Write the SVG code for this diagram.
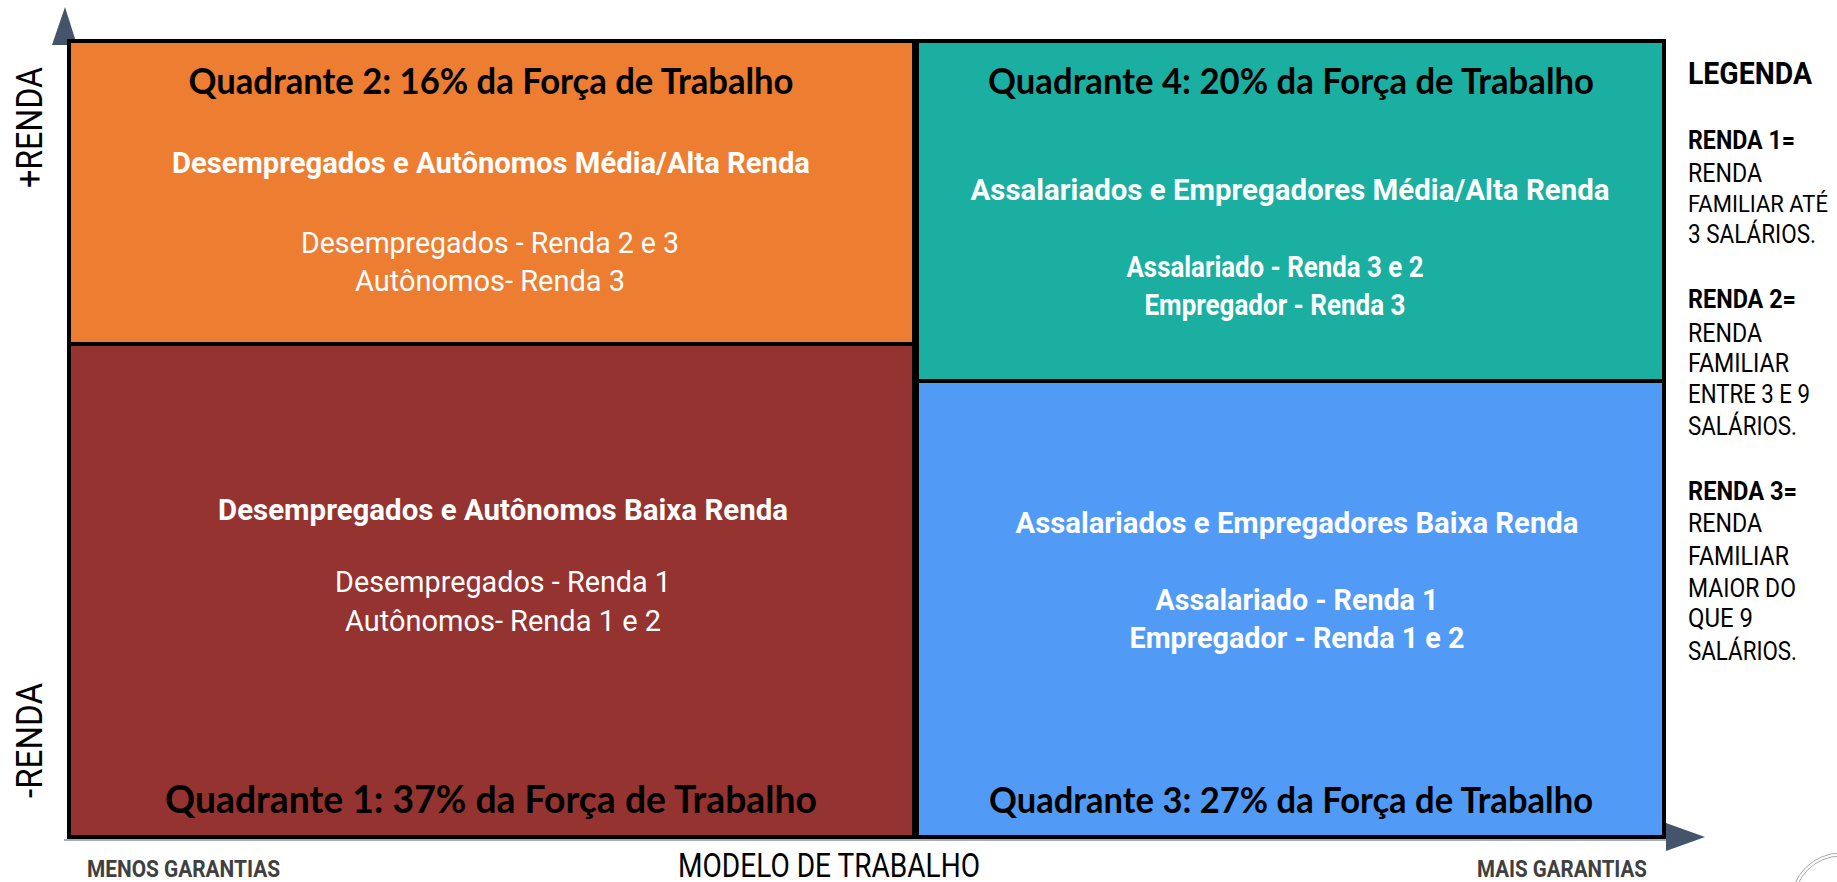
<svg xmlns="http://www.w3.org/2000/svg" width="1837" height="882" viewBox="0 0 1837 882">
<style>
.q{stroke:#000;stroke-width:4}
.ttl{font-family:Lato,"Liberation Sans",sans-serif;font-weight:700;font-size:36px;fill:#000;text-anchor:middle}
.bw{font-family:Roboto,"Liberation Sans",sans-serif;font-weight:700;font-size:29px;fill:#fff;text-anchor:middle}
.rw{font-family:Roboto,"Liberation Sans",sans-serif;font-weight:400;font-size:29px;fill:#fff;text-anchor:middle}
.lg{font-family:Roboto,"Liberation Sans",sans-serif;font-size:26px;fill:#000}
.lgb{font-family:Roboto,"Liberation Sans",sans-serif;font-weight:700;font-size:25px;fill:#000}
.ax{font-family:Roboto,"Liberation Sans",sans-serif;font-size:36px;fill:#000;text-anchor:middle}
.gar{font-family:Roboto,"Liberation Sans",sans-serif;font-weight:700;font-size:23px;fill:#404040}
</style>
<defs>
<linearGradient id="vg" x1="0" y1="0" x2="0" y2="1">
<stop offset="0" stop-color="#44546A"/><stop offset="1" stop-color="#9AAAC0"/>
</linearGradient>
</defs>
<rect width="1837" height="882" fill="#fff"/>
<g id="axes">
<line x1="64" y1="40" x2="64" y2="840" stroke="url(#vg)" stroke-width="3"/>
<line x1="64" y1="840" x2="1668" y2="840" stroke="#9FAEC2" stroke-width="2"/>
<polygon points="65,7 77,45 52,45" fill="#44546A"/>
<polygon points="1705,837 1666,823 1666,851" fill="#44546A"/>
</g>
<g id="q2">
<rect class="q" x="69" y="41" width="845" height="303" fill="#ED7D31"/>
<text class="ttl" x="491" y="94" textLength="605" lengthAdjust="spacingAndGlyphs">Quadrante 2: 16% da Força de Trabalho</text>
<text class="bw" x="491" y="173" textLength="638" lengthAdjust="spacingAndGlyphs">Desempregados e Autônomos Média/Alta Renda</text>
<text class="rw" x="490" y="253" textLength="378" lengthAdjust="spacingAndGlyphs">Desempregados - Renda 2 e 3</text>
<text class="rw" x="490" y="291" textLength="270" lengthAdjust="spacingAndGlyphs">Autônomos- Renda 3</text>
</g>
<g id="q1">
<rect class="q" x="69" y="344" width="845" height="493" fill="#943330"/>
<text class="bw" x="503" y="520" textLength="570" lengthAdjust="spacingAndGlyphs">Desempregados e Autônomos Baixa Renda</text>
<text class="rw" x="503" y="592" textLength="336" lengthAdjust="spacingAndGlyphs">Desempregados - Renda 1</text>
<text class="rw" x="503" y="631" textLength="316" lengthAdjust="spacingAndGlyphs">Autônomos- Renda 1 e 2</text>
<text class="ttl" x="491" y="813" style="font-size:38px" textLength="652" lengthAdjust="spacingAndGlyphs">Quadrante 1: 37% da Força de Trabalho</text>
</g>
<g id="q4">
<rect class="q" x="917" y="41" width="747" height="340" fill="#1AAFA1"/>
<text class="ttl" x="1291" y="94" textLength="606" lengthAdjust="spacingAndGlyphs">Quadrante 4: 20% da Força de Trabalho</text>
<text class="bw" x="1290" y="200" textLength="639" lengthAdjust="spacingAndGlyphs">Assalariados e Empregadores Média/Alta Renda</text>
<text class="bw" x="1275" y="277" textLength="297" lengthAdjust="spacingAndGlyphs">Assalariado - Renda 3 e 2</text>
<text class="bw" x="1275" y="315" textLength="261" lengthAdjust="spacingAndGlyphs">Empregador - Renda 3</text>
</g>
<g id="q3">
<rect class="q" x="917" y="381" width="747" height="456" fill="#519BF7"/>
<text class="bw" x="1297" y="533" textLength="563" lengthAdjust="spacingAndGlyphs">Assalariados e Empregadores Baixa Renda</text>
<text class="bw" x="1297" y="610" textLength="283" lengthAdjust="spacingAndGlyphs">Assalariado - Renda 1</text>
<text class="bw" x="1297" y="648" textLength="335" lengthAdjust="spacingAndGlyphs">Empregador - Renda 1 e 2</text>
<text class="ttl" x="1291" y="813" textLength="604" lengthAdjust="spacingAndGlyphs">Quadrante 3: 27% da Força de Trabalho</text>
</g>
<g id="labels">
<text class="ax" transform="translate(42,127.5) rotate(-90)" textLength="121" lengthAdjust="spacingAndGlyphs">+RENDA</text>
<text class="ax" transform="translate(42,740.5) rotate(-90)" textLength="115" lengthAdjust="spacingAndGlyphs">-RENDA</text>
<text class="ax" x="829" y="877" style="font-size:33px" textLength="302" lengthAdjust="spacingAndGlyphs">MODELO DE TRABALHO</text>
<text class="gar" x="87" y="877" textLength="193" lengthAdjust="spacingAndGlyphs">MENOS GARANTIAS</text>
<text class="gar" x="1477" y="877" textLength="170" lengthAdjust="spacingAndGlyphs">MAIS GARANTIAS</text>
</g>
<g id="legend">
<text class="lgb" x="1688" y="84" style="font-size:31px" textLength="124" lengthAdjust="spacingAndGlyphs">LEGENDA</text>
<text class="lgb" x="1688" y="149" textLength="107" lengthAdjust="spacingAndGlyphs">RENDA 1=</text>
<text class="lg" x="1688" y="182" textLength="74" lengthAdjust="spacingAndGlyphs">RENDA</text>
<text class="lg" x="1688" y="212" style="font-size:23px" textLength="140" lengthAdjust="spacingAndGlyphs">FAMILIAR ATÉ</text>
<text class="lg" x="1688" y="243" textLength="128" lengthAdjust="spacingAndGlyphs">3 SALÁRIOS.</text>
<text class="lgb" x="1688" y="308" textLength="108" lengthAdjust="spacingAndGlyphs">RENDA 2=</text>
<text class="lg" x="1688" y="342" textLength="74" lengthAdjust="spacingAndGlyphs">RENDA</text>
<text class="lg" x="1688" y="372" textLength="101" lengthAdjust="spacingAndGlyphs">FAMILIAR</text>
<text class="lg" x="1688" y="403" textLength="122" lengthAdjust="spacingAndGlyphs">ENTRE 3 E 9</text>
<text class="lg" x="1688" y="435" textLength="109" lengthAdjust="spacingAndGlyphs">SALÁRIOS.</text>
<text class="lgb" x="1688" y="500" textLength="109" lengthAdjust="spacingAndGlyphs">RENDA 3=</text>
<text class="lg" x="1688" y="532" textLength="74" lengthAdjust="spacingAndGlyphs">RENDA</text>
<text class="lg" x="1688" y="565" textLength="101" lengthAdjust="spacingAndGlyphs">FAMILIAR</text>
<text class="lg" x="1688" y="597" textLength="108" lengthAdjust="spacingAndGlyphs">MAIOR DO</text>
<text class="lg" x="1688" y="627" textLength="65" lengthAdjust="spacingAndGlyphs">QUE 9</text>
<text class="lg" x="1688" y="660" textLength="109" lengthAdjust="spacingAndGlyphs">SALÁRIOS.</text>
</g>
<g id="logo" fill="none" stroke="#A8A8A8" stroke-width="1">
<circle cx="1841" cy="903" r="50"/>
<circle cx="1841" cy="903" r="47"/>
</g>
</svg>
